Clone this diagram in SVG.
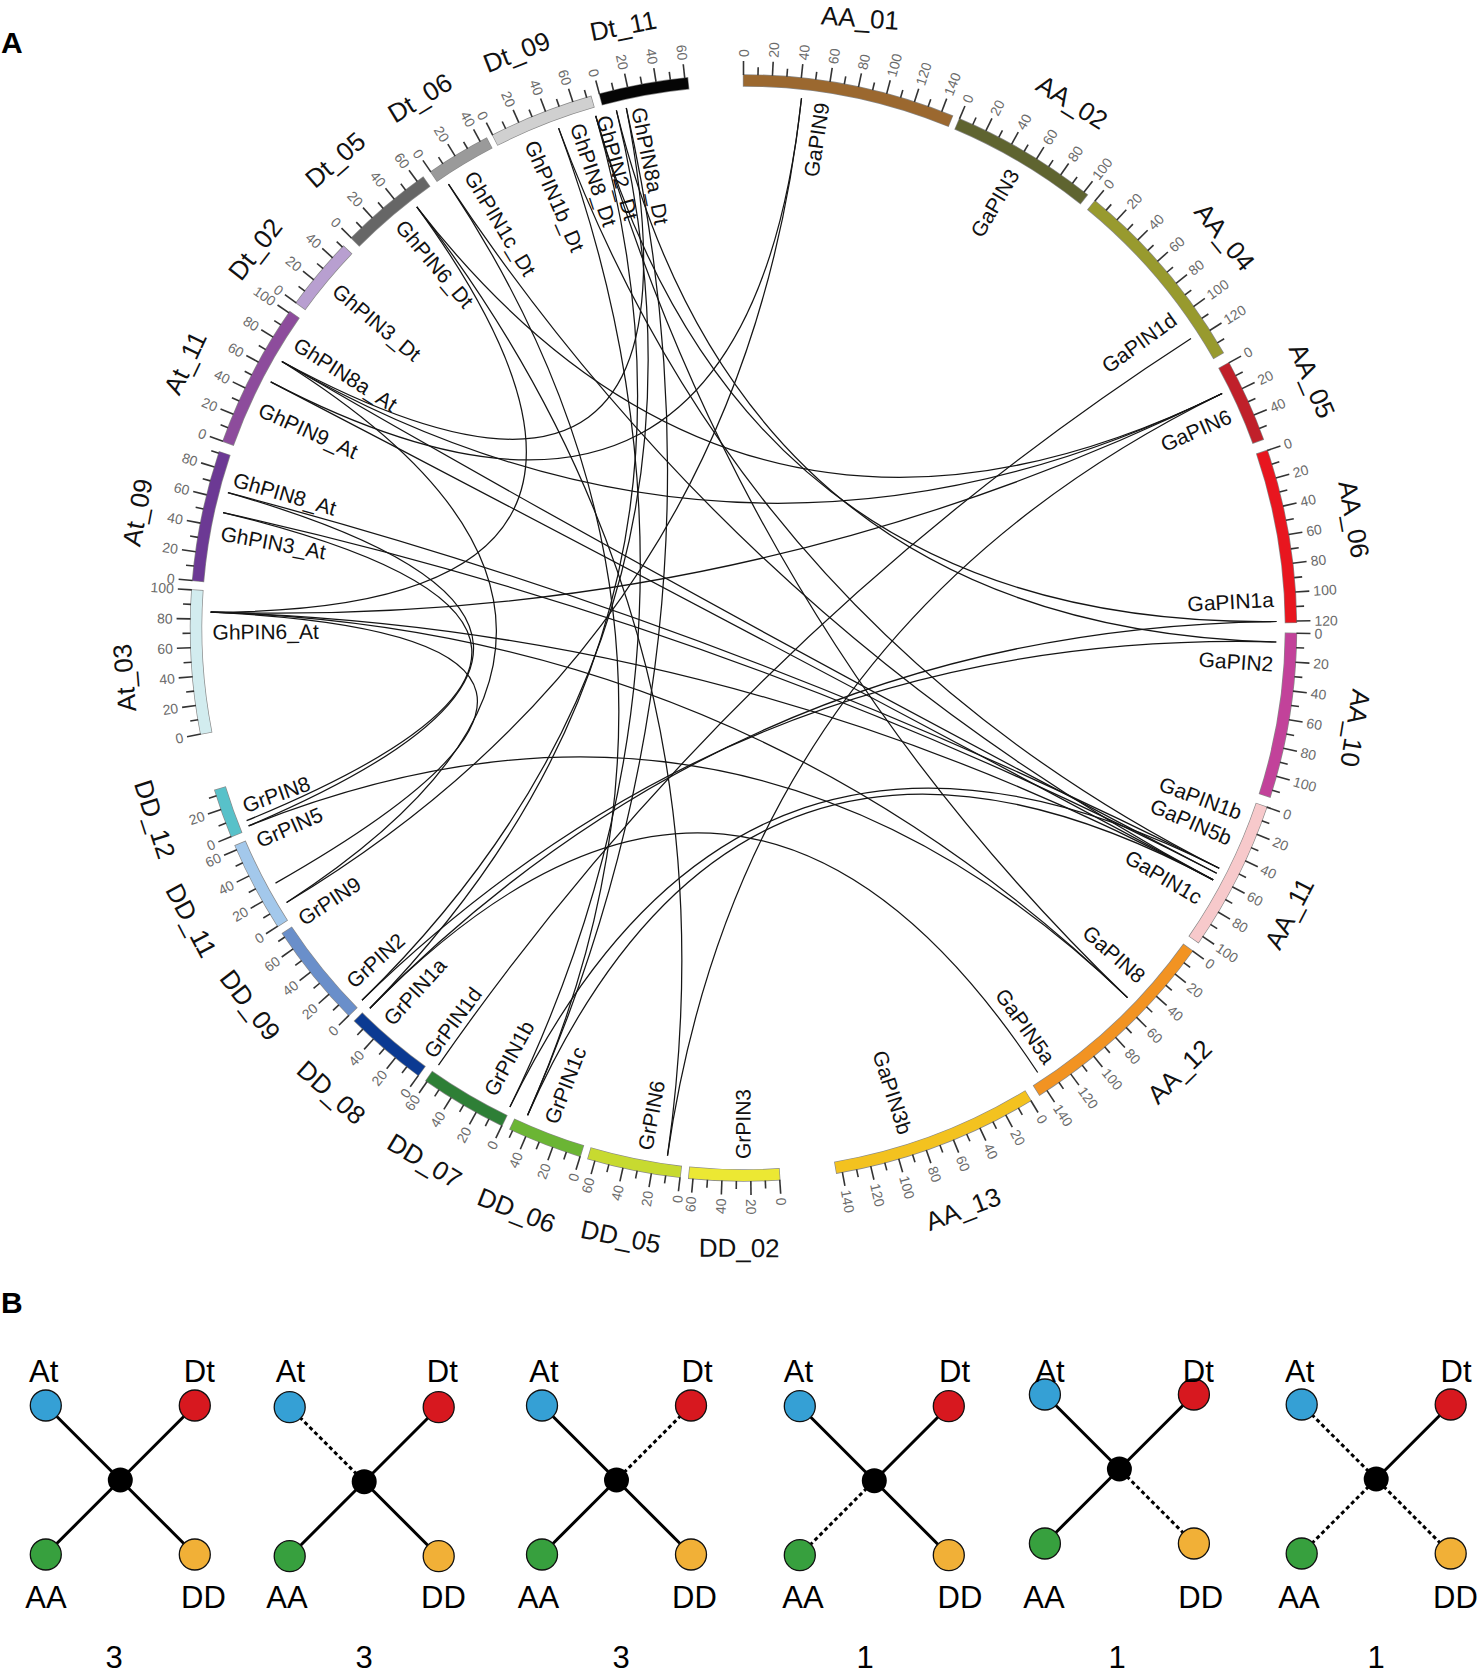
<svg xmlns="http://www.w3.org/2000/svg" width="1479" height="1672" viewBox="0 0 1479 1672">
<style>
text{font-family:"Liberation Sans",Arial,sans-serif}
.bf{fill:none;stroke-width:11}
.bd{fill:none;stroke:#8a8a8a;stroke-width:12.4}
.tk{stroke:#333;stroke-width:1.6}
.tl{font-size:14px;fill:#6b6b6b;dominant-baseline:central}
.to{text-anchor:start}
.ti{text-anchor:end}
.cn{font-size:26px;fill:#111;text-anchor:middle;dominant-baseline:central}
.gl{font-size:21px;fill:#111;dominant-baseline:central}
.gr{text-anchor:end}
.gi{text-anchor:start}
.lk path{fill:none;stroke:#151515;stroke-width:1.25}
.pl{font-size:30px;fill:#000;font-weight:bold}
.bt{font-size:31px;fill:#000;text-anchor:middle}
.e{stroke:#000;stroke-width:3}
.d{stroke:#000;stroke-width:3;stroke-dasharray:4 3}
.n{stroke:#111;stroke-width:1.3}
</style>
<defs>
<line id="M" class="tk" x1="0" y1="-553" x2="0" y2="-567"/>
<line id="m" class="tk" x1="0" y1="-553" x2="0" y2="-561"/>
</defs>
<rect width="1479" height="1672" fill="#fff"/>
<text class="pl" x="1" y="53">A</text>
<text class="pl" x="1" y="1313">B</text>
<g transform="translate(743.5 628)">
<g id="links" class="lk">
<path d="M-532.8 -15.8Q0 0 478.6 -234.5"/>
<path d="M-532.8 -15.8Q0 0 469.7 251.9"/>
<path d="M-532.8 -15.8Q-31.2 -15.9 -326.7 -421.2"/>
<path d="M-532.8 -15.8Q-34 8.1 -468 255.1"/>
<path d="M-532.8 -15.8Q0 0 384 369.6"/>
<path d="M-520.4 -115.4Q0 0 473.2 245.3"/>
<path d="M-520.4 -115.4Q-34.9 2.7 -496.9 192.7"/>
<path d="M-515.6 -135.3Q0 0 475.7 240.3"/>
<path d="M-515.6 -135.3Q-34.9 2.2 -494.9 197.9"/>
<path d="M-472.8 -246.1Q0 0 58 -529.8"/>
<path d="M-472.8 -246.1Q0 0 469.7 251.9"/>
<path d="M-461.6 -266.5Q0 0 473.2 245.3"/>
<path d="M-461.6 -266.5Q0 0 478.6 -234.5"/>
<path d="M-461.6 -266.5Q-35 0.3 -456.9 274.5"/>
<path d="M-461.6 -266.5Q-20.7 -28.2 -117.2 -520"/>
<path d="M-326.7 -421.2Q0 0 -76 527.6"/>
<path d="M-326.7 -421.2Q0 0 478.6 -234.5"/>
<path d="M-295 -443.9Q0 0 -215.9 487.3"/>
<path d="M-295 -443.9Q0 0 469.7 251.9"/>
<path d="M-184.9 -499.9Q0 0 -233.6 479.1"/>
<path d="M-184.9 -499.9Q0 0 475.7 240.3"/>
<path d="M-147.8 -512.1Q0 0 384 369.6"/>
<path d="M-147.8 -512.1Q0 0 533 -6.5"/>
<path d="M-147.8 -512.1Q0 0 -373.6 380.2"/>
<path d="M-127.1 -517.6Q0 0 532.8 14"/>
<path d="M-127.1 -517.6Q0 0 -381.5 372.3"/>
<path d="M-117.2 -520Q0 0 -215.9 487.3"/>
<path d="M58 -529.8Q0 0 -456.9 274.5"/>
<path d="M447.5 -289.5Q0 0 -305 437.1"/>
<path d="M533 -6.5Q0 0 -373.6 380.2"/>
<path d="M532.8 14Q0 0 -381.5 372.3"/>
<path d="M475.7 240.3Q0 0 -233.6 479.1"/>
<path d="M469.7 251.9Q0 0 -215.9 487.3"/>
<path d="M478.6 -234.5Q0 0 -76 527.6"/>
<path d="M294.2 444.5Q0 0 -373.6 380.2"/>
<path d="M384 369.6Q0 0 -494.9 197.9"/>
</g>

<g id="AA_01" transform="rotate(0)">
<circle class="bd" r="547.5" stroke-dasharray="213.48 3500" transform="rotate(-90.07)"/>
<circle class="bf" r="547.5" stroke="#9b682f" stroke-dasharray="212.14 3500" transform="rotate(-90)"/>
<use href="#M"/><use href="#M" transform="rotate(3)"/><use href="#M" transform="rotate(6)"/><use href="#M" transform="rotate(9)"/><use href="#M" transform="rotate(12)"/><use href="#M" transform="rotate(15)"/><use href="#M" transform="rotate(18)"/><use href="#M" transform="rotate(21)"/>
<use href="#m" transform="rotate(1.5)"/><use href="#m" transform="rotate(4.5)"/><use href="#m" transform="rotate(7.5)"/><use href="#m" transform="rotate(10.5)"/><use href="#m" transform="rotate(13.5)"/><use href="#m" transform="rotate(16.5)"/><use href="#m" transform="rotate(19.5)"/>
<text class="tl to" transform="rotate(0) translate(0 -571) rotate(-90)">0</text>
<text class="tl to" transform="rotate(3) translate(0 -571) rotate(-90)">20</text>
<text class="tl to" transform="rotate(6) translate(0 -571) rotate(-90)">40</text>
<text class="tl to" transform="rotate(9) translate(0 -571) rotate(-90)">60</text>
<text class="tl to" transform="rotate(12) translate(0 -571) rotate(-90)">80</text>
<text class="tl to" transform="rotate(15) translate(0 -571) rotate(-90)">100</text>
<text class="tl to" transform="rotate(18) translate(0 -571) rotate(-90)">120</text>
<text class="tl to" transform="rotate(21) translate(0 -571) rotate(-90)">140</text>
<text class="cn" transform="translate(116.5 -610) rotate(4)">AA_01</text>
</g>

<g id="AA_02" transform="rotate(22.99)">
<circle class="bd" r="547.5" stroke-dasharray="148.98 3500" transform="rotate(-90.07)"/>
<circle class="bf" r="547.5" stroke="#5f6430" stroke-dasharray="147.64 3500" transform="rotate(-90)"/>
<use href="#M"/><use href="#M" transform="rotate(3)"/><use href="#M" transform="rotate(6)"/><use href="#M" transform="rotate(9)"/><use href="#M" transform="rotate(12)"/><use href="#M" transform="rotate(15)"/>
<use href="#m" transform="rotate(1.5)"/><use href="#m" transform="rotate(4.5)"/><use href="#m" transform="rotate(7.5)"/><use href="#m" transform="rotate(10.5)"/><use href="#m" transform="rotate(13.5)"/>
<text class="tl to" transform="rotate(0) translate(0 -571) rotate(-90)">0</text>
<text class="tl to" transform="rotate(3) translate(0 -571) rotate(-90)">20</text>
<text class="tl to" transform="rotate(6) translate(0 -571) rotate(-90)">40</text>
<text class="tl to" transform="rotate(9) translate(0 -571) rotate(-90)">60</text>
<text class="tl to" transform="rotate(12) translate(0 -571) rotate(-90)">80</text>
<text class="tl to" transform="rotate(15) translate(0 -571) rotate(-90)">100</text>
<text class="cn" transform="rotate(9.01) translate(0 -620)">AA_02</text>
</g>

<g id="AA_04" transform="rotate(39.46)">
<circle class="bd" r="547.5" stroke-dasharray="199.14 3500" transform="rotate(-90.07)"/>
<circle class="bf" r="547.5" stroke="#989a2e" stroke-dasharray="197.8 3500" transform="rotate(-90)"/>
<use href="#M"/><use href="#M" transform="rotate(3)"/><use href="#M" transform="rotate(6)"/><use href="#M" transform="rotate(9)"/><use href="#M" transform="rotate(12)"/><use href="#M" transform="rotate(15)"/><use href="#M" transform="rotate(18)"/>
<use href="#m" transform="rotate(1.5)"/><use href="#m" transform="rotate(4.5)"/><use href="#m" transform="rotate(7.5)"/><use href="#m" transform="rotate(10.5)"/><use href="#m" transform="rotate(13.5)"/><use href="#m" transform="rotate(16.5)"/><use href="#m" transform="rotate(19.5)"/>
<text class="tl to" transform="rotate(0) translate(0 -571) rotate(-90)">0</text>
<text class="tl to" transform="rotate(3) translate(0 -571) rotate(-90)">20</text>
<text class="tl to" transform="rotate(6) translate(0 -571) rotate(-90)">40</text>
<text class="tl to" transform="rotate(9) translate(0 -571) rotate(-90)">60</text>
<text class="tl to" transform="rotate(12) translate(0 -571) rotate(-90)">80</text>
<text class="tl to" transform="rotate(15) translate(0 -571) rotate(-90)">100</text>
<text class="tl to" transform="rotate(18) translate(0 -571) rotate(-90)">120</text>
<text class="cn" transform="rotate(11.44) translate(0 -620)">AA_04</text>
</g>

<g id="AA_05" transform="rotate(61.35)">
<circle class="bd" r="547.5" stroke-dasharray="84.47 3500" transform="rotate(-90.07)"/>
<circle class="bf" r="547.5" stroke="#c0202a" stroke-dasharray="83.13 3500" transform="rotate(-90)"/>
<use href="#M"/><use href="#M" transform="rotate(3)"/><use href="#M" transform="rotate(6)"/>
<use href="#m" transform="rotate(1.5)"/><use href="#m" transform="rotate(4.5)"/><use href="#m" transform="rotate(7.5)"/>
<text class="tl to" transform="rotate(0) translate(0 -571) rotate(-90)">0</text>
<text class="tl to" transform="rotate(3) translate(0 -571) rotate(-90)">20</text>
<text class="tl to" transform="rotate(6) translate(0 -571) rotate(-90)">40</text>
<text class="cn" transform="rotate(5.15) translate(0 -620)">AA_05</text>
</g>

<g id="AA_06" transform="rotate(71.27)">
<circle class="bd" r="547.5" stroke-dasharray="174.78 3500" transform="rotate(-90.07)"/>
<circle class="bf" r="547.5" stroke="#e8161f" stroke-dasharray="173.44 3500" transform="rotate(-90)"/>
<use href="#M"/><use href="#M" transform="rotate(3)"/><use href="#M" transform="rotate(6)"/><use href="#M" transform="rotate(9)"/><use href="#M" transform="rotate(12)"/><use href="#M" transform="rotate(15)"/><use href="#M" transform="rotate(18)"/>
<use href="#m" transform="rotate(1.5)"/><use href="#m" transform="rotate(4.5)"/><use href="#m" transform="rotate(7.5)"/><use href="#m" transform="rotate(10.5)"/><use href="#m" transform="rotate(13.5)"/><use href="#m" transform="rotate(16.5)"/>
<text class="tl to" transform="rotate(0) translate(0 -571) rotate(-90)">0</text>
<text class="tl to" transform="rotate(3) translate(0 -571) rotate(-90)">20</text>
<text class="tl to" transform="rotate(6) translate(0 -571) rotate(-90)">40</text>
<text class="tl to" transform="rotate(9) translate(0 -571) rotate(-90)">60</text>
<text class="tl to" transform="rotate(12) translate(0 -571) rotate(-90)">80</text>
<text class="tl to" transform="rotate(15) translate(0 -571) rotate(-90)">100</text>
<text class="tl to" transform="rotate(18) translate(0 -571) rotate(-90)">120</text>
<text class="cn" transform="rotate(8.63) translate(0 -620)">AA_06</text>
</g>

<g id="AA_10" transform="rotate(90.55)">
<circle class="bd" r="547.5" stroke-dasharray="166.18 3500" transform="rotate(-90.07)"/>
<circle class="bf" r="547.5" stroke="#c2429a" stroke-dasharray="164.84 3500" transform="rotate(-90)"/>
<use href="#M"/><use href="#M" transform="rotate(3)"/><use href="#M" transform="rotate(6)"/><use href="#M" transform="rotate(9)"/><use href="#M" transform="rotate(12)"/><use href="#M" transform="rotate(15)"/>
<use href="#m" transform="rotate(1.5)"/><use href="#m" transform="rotate(4.5)"/><use href="#m" transform="rotate(7.5)"/><use href="#m" transform="rotate(10.5)"/><use href="#m" transform="rotate(13.5)"/><use href="#m" transform="rotate(16.5)"/>
<text class="tl to" transform="rotate(0) translate(0 -571) rotate(-90)">0</text>
<text class="tl to" transform="rotate(3) translate(0 -571) rotate(-90)">20</text>
<text class="tl to" transform="rotate(6) translate(0 -571) rotate(-90)">40</text>
<text class="tl to" transform="rotate(9) translate(0 -571) rotate(-90)">60</text>
<text class="tl to" transform="rotate(12) translate(0 -571) rotate(-90)">80</text>
<text class="tl to" transform="rotate(15) translate(0 -571) rotate(-90)">100</text>
<text class="cn" transform="rotate(8.75) translate(0 -620)">AA_10</text>
</g>

<g id="AA_11" transform="rotate(108.9)">
<circle class="bd" r="547.5" stroke-dasharray="151.84 3500" transform="rotate(-90.07)"/>
<circle class="bf" r="547.5" stroke="#f7c9cb" stroke-dasharray="150.5 3500" transform="rotate(-90)"/>
<use href="#M"/><use href="#M" transform="rotate(3)"/><use href="#M" transform="rotate(6)"/><use href="#M" transform="rotate(9)"/><use href="#M" transform="rotate(12)"/><use href="#M" transform="rotate(15)"/>
<use href="#m" transform="rotate(1.5)"/><use href="#m" transform="rotate(4.5)"/><use href="#m" transform="rotate(7.5)"/><use href="#m" transform="rotate(10.5)"/><use href="#m" transform="rotate(13.5)"/>
<text class="tl to" transform="rotate(0) translate(0 -571) rotate(-90)">0</text>
<text class="tl to" transform="rotate(3) translate(0 -571) rotate(-90)">20</text>
<text class="tl to" transform="rotate(6) translate(0 -571) rotate(-90)">40</text>
<text class="tl to" transform="rotate(9) translate(0 -571) rotate(-90)">60</text>
<text class="tl to" transform="rotate(12) translate(0 -571) rotate(-90)">80</text>
<text class="tl to" transform="rotate(15) translate(0 -571) rotate(-90)">100</text>
<text class="cn" transform="rotate(8.7) translate(0 -616) rotate(180)">AA_11</text>
</g>

<g id="AA_12" transform="rotate(125.73)">
<circle class="bd" r="547.5" stroke-dasharray="210.61 3500" transform="rotate(-90.07)"/>
<circle class="bf" r="547.5" stroke="#f29322" stroke-dasharray="209.27 3500" transform="rotate(-90)"/>
<use href="#M"/><use href="#M" transform="rotate(3)"/><use href="#M" transform="rotate(6)"/><use href="#M" transform="rotate(9)"/><use href="#M" transform="rotate(12)"/><use href="#M" transform="rotate(15)"/><use href="#M" transform="rotate(18)"/><use href="#M" transform="rotate(21)"/>
<use href="#m" transform="rotate(1.5)"/><use href="#m" transform="rotate(4.5)"/><use href="#m" transform="rotate(7.5)"/><use href="#m" transform="rotate(10.5)"/><use href="#m" transform="rotate(13.5)"/><use href="#m" transform="rotate(16.5)"/><use href="#m" transform="rotate(19.5)"/>
<text class="tl to" transform="rotate(0) translate(0 -571) rotate(-90)">0</text>
<text class="tl to" transform="rotate(3) translate(0 -571) rotate(-90)">20</text>
<text class="tl to" transform="rotate(6) translate(0 -571) rotate(-90)">40</text>
<text class="tl to" transform="rotate(9) translate(0 -571) rotate(-90)">60</text>
<text class="tl to" transform="rotate(12) translate(0 -571) rotate(-90)">80</text>
<text class="tl to" transform="rotate(15) translate(0 -571) rotate(-90)">100</text>
<text class="tl to" transform="rotate(18) translate(0 -571) rotate(-90)">120</text>
<text class="tl to" transform="rotate(21) translate(0 -571) rotate(-90)">140</text>
<text class="cn" transform="rotate(9.77) translate(0 -622) rotate(180)">AA_12</text>
</g>

<g id="AA_13" transform="rotate(148.7)">
<circle class="bd" r="547.5" stroke-dasharray="207.74 3500" transform="rotate(-90.07)"/>
<circle class="bf" r="547.5" stroke="#f3c21f" stroke-dasharray="206.4 3500" transform="rotate(-90)"/>
<use href="#M"/><use href="#M" transform="rotate(3)"/><use href="#M" transform="rotate(6)"/><use href="#M" transform="rotate(9)"/><use href="#M" transform="rotate(12)"/><use href="#M" transform="rotate(15)"/><use href="#M" transform="rotate(18)"/><use href="#M" transform="rotate(21)"/>
<use href="#m" transform="rotate(1.5)"/><use href="#m" transform="rotate(4.5)"/><use href="#m" transform="rotate(7.5)"/><use href="#m" transform="rotate(10.5)"/><use href="#m" transform="rotate(13.5)"/><use href="#m" transform="rotate(16.5)"/><use href="#m" transform="rotate(19.5)"/>
<text class="tl to" transform="rotate(0) translate(0 -571) rotate(-90)">0</text>
<text class="tl to" transform="rotate(3) translate(0 -571) rotate(-90)">20</text>
<text class="tl to" transform="rotate(6) translate(0 -571) rotate(-90)">40</text>
<text class="tl to" transform="rotate(9) translate(0 -571) rotate(-90)">60</text>
<text class="tl to" transform="rotate(12) translate(0 -571) rotate(-90)">80</text>
<text class="tl to" transform="rotate(15) translate(0 -571) rotate(-90)">100</text>
<text class="tl to" transform="rotate(18) translate(0 -571) rotate(-90)">120</text>
<text class="tl to" transform="rotate(21) translate(0 -571) rotate(-90)">140</text>
<text class="cn" transform="rotate(10.6) translate(0 -621) rotate(180)">AA_13</text>
</g>

<g id="DD_02" transform="rotate(176.24)">
<circle class="bd" r="547.5" stroke-dasharray="91.64 3500" transform="rotate(-90.07)"/>
<circle class="bf" r="547.5" stroke="#ece833" stroke-dasharray="90.3 3500" transform="rotate(-90)"/>
<use href="#M"/><use href="#M" transform="rotate(3)"/><use href="#M" transform="rotate(6)"/><use href="#M" transform="rotate(9)"/>
<use href="#m" transform="rotate(1.5)"/><use href="#m" transform="rotate(4.5)"/><use href="#m" transform="rotate(7.5)"/>
<text class="tl to" transform="rotate(0) translate(0 -571) rotate(-90)">0</text>
<text class="tl to" transform="rotate(3) translate(0 -571) rotate(-90)">20</text>
<text class="tl ti" transform="rotate(6) translate(0 -571) rotate(90)">40</text>
<text class="tl ti" transform="rotate(9) translate(0 -571) rotate(90)">60</text>
<text class="cn" transform="rotate(4.16) translate(0 -620) rotate(180)">DD_02</text>
</g>

<g id="DD_05" transform="rotate(186.59)">
<circle class="bd" r="547.5" stroke-dasharray="94.51 3500" transform="rotate(-90.07)"/>
<circle class="bf" r="547.5" stroke="#c7da30" stroke-dasharray="93.17 3500" transform="rotate(-90)"/>
<use href="#M"/><use href="#M" transform="rotate(3)"/><use href="#M" transform="rotate(6)"/><use href="#M" transform="rotate(9)"/>
<use href="#m" transform="rotate(1.5)"/><use href="#m" transform="rotate(4.5)"/><use href="#m" transform="rotate(7.5)"/>
<text class="tl ti" transform="rotate(0) translate(0 -571) rotate(90)">0</text>
<text class="tl ti" transform="rotate(3) translate(0 -571) rotate(90)">20</text>
<text class="tl ti" transform="rotate(6) translate(0 -571) rotate(90)">40</text>
<text class="tl ti" transform="rotate(9) translate(0 -571) rotate(90)">60</text>
<text class="cn" transform="rotate(4.81) translate(0 -621) rotate(180)">DD_05</text>
</g>

<g id="DD_06" transform="rotate(197.18)">
<circle class="bd" r="547.5" stroke-dasharray="75.87 3500" transform="rotate(-90.07)"/>
<circle class="bf" r="547.5" stroke="#6bb534" stroke-dasharray="74.53 3500" transform="rotate(-90)"/>
<use href="#M"/><use href="#M" transform="rotate(3)"/><use href="#M" transform="rotate(6)"/>
<use href="#m" transform="rotate(1.5)"/><use href="#m" transform="rotate(4.5)"/><use href="#m" transform="rotate(7.5)"/>
<text class="tl ti" transform="rotate(0) translate(0 -571) rotate(90)">0</text>
<text class="tl ti" transform="rotate(3) translate(0 -571) rotate(90)">20</text>
<text class="tl ti" transform="rotate(6) translate(0 -571) rotate(90)">40</text>
<text class="cn" transform="rotate(4.12) translate(0 -625) rotate(180)">DD_06</text>
</g>

<g id="DD_07" transform="rotate(205.9)">
<circle class="bd" r="547.5" stroke-dasharray="88.77 3500" transform="rotate(-90.07)"/>
<circle class="bf" r="547.5" stroke="#2e7f36" stroke-dasharray="87.43 3500" transform="rotate(-90)"/>
<use href="#M"/><use href="#M" transform="rotate(3)"/><use href="#M" transform="rotate(6)"/><use href="#M" transform="rotate(9)"/>
<use href="#m" transform="rotate(1.5)"/><use href="#m" transform="rotate(4.5)"/><use href="#m" transform="rotate(7.5)"/>
<text class="tl ti" transform="rotate(0) translate(0 -571) rotate(90)">0</text>
<text class="tl ti" transform="rotate(3) translate(0 -571) rotate(90)">20</text>
<text class="tl ti" transform="rotate(6) translate(0 -571) rotate(90)">40</text>
<text class="tl ti" transform="rotate(9) translate(0 -571) rotate(90)">60</text>
<text class="cn" transform="rotate(5) translate(0 -621) rotate(180)">DD_07</text>
</g>

<g id="DD_08" transform="rotate(216)">
<circle class="bd" r="547.5" stroke-dasharray="84.47 3500" transform="rotate(-90.07)"/>
<circle class="bf" r="547.5" stroke="#0b3a92" stroke-dasharray="83.13 3500" transform="rotate(-90)"/>
<use href="#M"/><use href="#M" transform="rotate(3)"/><use href="#M" transform="rotate(6)"/>
<use href="#m" transform="rotate(1.5)"/><use href="#m" transform="rotate(4.5)"/><use href="#m" transform="rotate(7.5)"/>
<text class="tl ti" transform="rotate(0) translate(0 -571) rotate(90)">0</text>
<text class="tl ti" transform="rotate(3) translate(0 -571) rotate(90)">20</text>
<text class="tl ti" transform="rotate(6) translate(0 -571) rotate(90)">40</text>
<text class="cn" transform="rotate(5.6) translate(0 -621) rotate(180)">DD_08</text>
</g>

<g id="DD_09" transform="rotate(225.53)">
<circle class="bd" r="547.5" stroke-dasharray="105.98 3500" transform="rotate(-90.07)"/>
<circle class="bf" r="547.5" stroke="#6a8fca" stroke-dasharray="104.64 3500" transform="rotate(-90)"/>
<use href="#M"/><use href="#M" transform="rotate(3)"/><use href="#M" transform="rotate(6)"/><use href="#M" transform="rotate(9)"/>
<use href="#m" transform="rotate(1.5)"/><use href="#m" transform="rotate(4.5)"/><use href="#m" transform="rotate(7.5)"/><use href="#m" transform="rotate(10.5)"/>
<text class="tl ti" transform="rotate(0) translate(0 -571) rotate(90)">0</text>
<text class="tl ti" transform="rotate(3) translate(0 -571) rotate(90)">20</text>
<text class="tl ti" transform="rotate(6) translate(0 -571) rotate(90)">40</text>
<text class="tl ti" transform="rotate(9) translate(0 -571) rotate(90)">60</text>
<text class="cn" transform="rotate(7.07) translate(0 -621) rotate(180)">DD_09</text>
</g>

<g id="DD_11" transform="rotate(237.37)">
<circle class="bd" r="547.5" stroke-dasharray="91.64 3500" transform="rotate(-90.07)"/>
<circle class="bf" r="547.5" stroke="#a3c8eb" stroke-dasharray="90.3 3500" transform="rotate(-90)"/>
<use href="#M"/><use href="#M" transform="rotate(3)"/><use href="#M" transform="rotate(6)"/><use href="#M" transform="rotate(9)"/>
<use href="#m" transform="rotate(1.5)"/><use href="#m" transform="rotate(4.5)"/><use href="#m" transform="rotate(7.5)"/>
<text class="tl ti" transform="rotate(0) translate(0 -571) rotate(90)">0</text>
<text class="tl ti" transform="rotate(3) translate(0 -571) rotate(90)">20</text>
<text class="tl ti" transform="rotate(6) translate(0 -571) rotate(90)">40</text>
<text class="tl ti" transform="rotate(9) translate(0 -571) rotate(90)">60</text>
<text class="cn" transform="rotate(4.73) translate(0 -625) rotate(180)">DD_11</text>
</g>

<g id="DD_12" transform="rotate(247.84)">
<circle class="bd" r="547.5" stroke-dasharray="50.07 3500" transform="rotate(-90.07)"/>
<circle class="bf" r="547.5" stroke="#58c1c9" stroke-dasharray="48.73 3500" transform="rotate(-90)"/>
<use href="#M"/><use href="#M" transform="rotate(3)"/>
<use href="#m" transform="rotate(1.5)"/><use href="#m" transform="rotate(4.5)"/>
<text class="tl ti" transform="rotate(0) translate(0 -571) rotate(90)">0</text>
<text class="tl ti" transform="rotate(3) translate(0 -571) rotate(90)">20</text>
<text class="cn" transform="rotate(4.16) translate(0 -619) rotate(180)">DD_12</text>
</g>

<g id="At_03" transform="rotate(258.95)">
<circle class="bd" r="547.5" stroke-dasharray="144.68 3500" transform="rotate(-90.07)"/>
<circle class="bf" r="547.5" stroke="#d2ecef" stroke-dasharray="143.34 3500" transform="rotate(-90)"/>
<use href="#M"/><use href="#M" transform="rotate(3)"/><use href="#M" transform="rotate(6)"/><use href="#M" transform="rotate(9)"/><use href="#M" transform="rotate(12)"/><use href="#M" transform="rotate(15)"/>
<use href="#m" transform="rotate(1.5)"/><use href="#m" transform="rotate(4.5)"/><use href="#m" transform="rotate(7.5)"/><use href="#m" transform="rotate(10.5)"/><use href="#m" transform="rotate(13.5)"/>
<text class="tl ti" transform="rotate(0) translate(0 -571) rotate(90)">0</text>
<text class="tl ti" transform="rotate(3) translate(0 -571) rotate(90)">20</text>
<text class="tl ti" transform="rotate(6) translate(0 -571) rotate(90)">40</text>
<text class="tl ti" transform="rotate(9) translate(0 -571) rotate(90)">60</text>
<text class="tl ti" transform="rotate(12) translate(0 -571) rotate(90)">80</text>
<text class="tl ti" transform="rotate(15) translate(0 -571) rotate(90)">100</text>
<text class="cn" transform="rotate(6.45) translate(0 -621)">At_03</text>
</g>

<g id="At_09" transform="rotate(274.93)">
<circle class="bd" r="547.5" stroke-dasharray="131.77 3500" transform="rotate(-90.07)"/>
<circle class="bf" r="547.5" stroke="#6c3994" stroke-dasharray="130.43 3500" transform="rotate(-90)"/>
<use href="#M"/><use href="#M" transform="rotate(3)"/><use href="#M" transform="rotate(6)"/><use href="#M" transform="rotate(9)"/><use href="#M" transform="rotate(12)"/>
<use href="#m" transform="rotate(1.5)"/><use href="#m" transform="rotate(4.5)"/><use href="#m" transform="rotate(7.5)"/><use href="#m" transform="rotate(10.5)"/><use href="#m" transform="rotate(13.5)"/>
<text class="tl ti" transform="rotate(0) translate(0 -571) rotate(90)">0</text>
<text class="tl ti" transform="rotate(3) translate(0 -571) rotate(90)">20</text>
<text class="tl ti" transform="rotate(6) translate(0 -571) rotate(90)">40</text>
<text class="tl ti" transform="rotate(9) translate(0 -571) rotate(90)">60</text>
<text class="tl ti" transform="rotate(12) translate(0 -571) rotate(90)">80</text>
<text class="cn" transform="rotate(5.87) translate(0 -617)">At_09</text>
</g>

<g id="At_11" transform="rotate(289.73)">
<circle class="bd" r="547.5" stroke-dasharray="146.11 3500" transform="rotate(-90.07)"/>
<circle class="bf" r="547.5" stroke="#8d4c9c" stroke-dasharray="144.77 3500" transform="rotate(-90)"/>
<use href="#M"/><use href="#M" transform="rotate(3)"/><use href="#M" transform="rotate(6)"/><use href="#M" transform="rotate(9)"/><use href="#M" transform="rotate(12)"/><use href="#M" transform="rotate(15)"/>
<use href="#m" transform="rotate(1.5)"/><use href="#m" transform="rotate(4.5)"/><use href="#m" transform="rotate(7.5)"/><use href="#m" transform="rotate(10.5)"/><use href="#m" transform="rotate(13.5)"/>
<text class="tl ti" transform="rotate(0) translate(0 -571) rotate(90)">0</text>
<text class="tl ti" transform="rotate(3) translate(0 -571) rotate(90)">20</text>
<text class="tl ti" transform="rotate(6) translate(0 -571) rotate(90)">40</text>
<text class="tl ti" transform="rotate(9) translate(0 -571) rotate(90)">60</text>
<text class="tl ti" transform="rotate(12) translate(0 -571) rotate(90)">80</text>
<text class="tl ti" transform="rotate(15) translate(0 -571) rotate(90)">100</text>
<text class="cn" transform="rotate(5.67) translate(0 -618)">At_11</text>
</g>

<g id="Dt_02" transform="rotate(306.02)">
<circle class="bd" r="547.5" stroke-dasharray="74.44 3500" transform="rotate(-90.07)"/>
<circle class="bf" r="547.5" stroke="#b89fd0" stroke-dasharray="73.1 3500" transform="rotate(-90)"/>
<use href="#M"/><use href="#M" transform="rotate(3)"/><use href="#M" transform="rotate(6)"/>
<use href="#m" transform="rotate(1.5)"/><use href="#m" transform="rotate(4.5)"/><use href="#m" transform="rotate(7.5)"/>
<text class="tl ti" transform="rotate(0) translate(0 -571) rotate(90)">0</text>
<text class="tl ti" transform="rotate(3) translate(0 -571) rotate(90)">20</text>
<text class="tl ti" transform="rotate(6) translate(0 -571) rotate(90)">40</text>
<text class="cn" transform="rotate(1.78) translate(0 -618)">Dt_02</text>
</g>

<g id="Dt_05" transform="rotate(314.85)">
<circle class="bd" r="547.5" stroke-dasharray="94.51 3500" transform="rotate(-90.07)"/>
<circle class="bf" r="547.5" stroke="#666666" stroke-dasharray="93.17 3500" transform="rotate(-90)"/>
<use href="#M"/><use href="#M" transform="rotate(3)"/><use href="#M" transform="rotate(6)"/><use href="#M" transform="rotate(9)"/>
<use href="#m" transform="rotate(1.5)"/><use href="#m" transform="rotate(4.5)"/><use href="#m" transform="rotate(7.5)"/>
<text class="tl ti" transform="rotate(0) translate(0 -571) rotate(90)">0</text>
<text class="tl ti" transform="rotate(3) translate(0 -571) rotate(90)">20</text>
<text class="tl ti" transform="rotate(6) translate(0 -571) rotate(90)">40</text>
<text class="tl ti" transform="rotate(9) translate(0 -571) rotate(90)">60</text>
<text class="cn" transform="rotate(4.05) translate(0 -621)">Dt_05</text>
</g>

<g id="Dt_06" transform="rotate(325.57)">
<circle class="bd" r="547.5" stroke-dasharray="65.84 3500" transform="rotate(-90.07)"/>
<circle class="bf" r="547.5" stroke="#9a9a9a" stroke-dasharray="64.5 3500" transform="rotate(-90)"/>
<use href="#M"/><use href="#M" transform="rotate(3)"/><use href="#M" transform="rotate(6)"/>
<use href="#m" transform="rotate(1.5)"/><use href="#m" transform="rotate(4.5)"/>
<text class="tl ti" transform="rotate(0) translate(0 -571) rotate(90)">0</text>
<text class="tl ti" transform="rotate(3) translate(0 -571) rotate(90)">20</text>
<text class="tl ti" transform="rotate(6) translate(0 -571) rotate(90)">40</text>
<text class="cn" transform="rotate(3.03) translate(0 -621)">Dt_06</text>
</g>

<g id="Dt_09" transform="rotate(333.03)">
<circle class="bd" r="547.5" stroke-dasharray="105.98 3500" transform="rotate(-90.07)"/>
<circle class="bf" r="547.5" stroke="#d0d0d0" stroke-dasharray="104.64 3500" transform="rotate(-90)"/>
<use href="#M"/><use href="#M" transform="rotate(3)"/><use href="#M" transform="rotate(6)"/><use href="#M" transform="rotate(9)"/>
<use href="#m" transform="rotate(1.5)"/><use href="#m" transform="rotate(4.5)"/><use href="#m" transform="rotate(7.5)"/><use href="#m" transform="rotate(10.5)"/>
<text class="tl ti" transform="rotate(0) translate(0 -571) rotate(90)">0</text>
<text class="tl ti" transform="rotate(3) translate(0 -571) rotate(90)">20</text>
<text class="tl ti" transform="rotate(6) translate(0 -571) rotate(90)">40</text>
<text class="tl ti" transform="rotate(9) translate(0 -571) rotate(90)">60</text>
<text class="cn" transform="rotate(5.47) translate(0 -619)">Dt_09</text>
</g>

<g id="Dt_11" transform="rotate(344.9)">
<circle class="bd" r="547.5" stroke-dasharray="90.21 3500" transform="rotate(-90.07)"/>
<circle class="bf" r="547.5" stroke="#050505" stroke-dasharray="88.87 3500" transform="rotate(-90)"/>
<use href="#M"/><use href="#M" transform="rotate(3)"/><use href="#M" transform="rotate(6)"/><use href="#M" transform="rotate(9)"/>
<use href="#m" transform="rotate(1.5)"/><use href="#m" transform="rotate(4.5)"/><use href="#m" transform="rotate(7.5)"/>
<text class="tl ti" transform="rotate(0) translate(0 -571) rotate(90)">0</text>
<text class="tl ti" transform="rotate(3) translate(0 -571) rotate(90)">20</text>
<text class="tl ti" transform="rotate(6) translate(0 -571) rotate(90)">40</text>
<text class="tl ti" transform="rotate(9) translate(0 -571) rotate(90)">60</text>
<text class="cn" transform="rotate(3.8) translate(0 -614)">Dt_11</text>
</g>

<g id="gene-labels">
<text id="GaPIN9" class="gl gr" transform="rotate(8.5) translate(0 -531) rotate(-90)">GaPIN9</text>
<text id="GaPIN3" class="gl gr" transform="rotate(30.6) translate(0 -531) rotate(-90)">GaPIN3</text>
<text id="GaPIN1d" class="gl gr" transform="rotate(54.2) translate(0 -531) rotate(-90)">GaPIN1d</text>
<text id="GaPIN6" class="gl gr" transform="rotate(66.4) translate(0 -531) rotate(-90)">GaPIN6</text>
<text id="GaPIN1a" class="gl gr" transform="rotate(86.9) translate(0 -531) rotate(-90)">GaPIN1a</text>
<text id="GaPIN2" class="gl gr" transform="rotate(93.9) translate(0 -531) rotate(-90)">GaPIN2</text>
<text id="GaPIN1b" class="gl gr" transform="rotate(110.4) translate(0 -531) rotate(-90)">GaPIN1b</text>
<text id="GaPIN5b" class="gl gr" transform="rotate(113.4) translate(0 -531) rotate(-90)">GaPIN5b</text>
<text id="GaPIN1c" class="gl gr" transform="rotate(120.65) translate(0 -531) rotate(-90)">GaPIN1c</text>
<text id="GaPIN8" class="gl gr" transform="rotate(131.35) translate(0 -531) rotate(-90)">GaPIN8</text>
<text id="GaPIN5a" class="gl gr" transform="rotate(144.7) translate(0 -531) rotate(-90)">GaPIN5a</text>
<text id="GaPIN3b" class="gl gr" transform="rotate(162.2) translate(0 -531) rotate(-90)">GaPIN3b</text>
<text id="GrPIN3" class="gl gi" transform="rotate(180.06) translate(0 -531) rotate(90)">GrPIN3</text>
<text id="GrPIN6" class="gl gi" transform="rotate(190.7) translate(0 -531) rotate(90)">GrPIN6</text>
<text id="GrPIN1c" class="gl gi" transform="rotate(201.3) translate(0 -531) rotate(90)">GrPIN1c</text>
<text id="GrPIN1b" class="gl gi" transform="rotate(208.6) translate(0 -531) rotate(90)">GrPIN1b</text>
<text id="GrPIN1d" class="gl gi" transform="rotate(216.4) translate(0 -531) rotate(90)">GrPIN1d</text>
<text id="GrPIN1a" class="gl gi" transform="rotate(222.1) translate(0 -531) rotate(90)">GrPIN1a</text>
<text id="GrPIN2" class="gl gi" transform="rotate(227.9) translate(0 -531) rotate(90)">GrPIN2</text>
<text id="GrPIN9" class="gl gi" transform="rotate(236.6) translate(0 -531) rotate(90)">GrPIN9</text>
<text id="GrPIN5" class="gl gi" transform="rotate(246.3) translate(0 -531) rotate(90)">GrPIN5</text>
<text id="GrPIN8" class="gl gi" transform="rotate(250.4) translate(0 -531) rotate(90)">GrPIN8</text>
<text id="GhPIN6_At" class="gl gi" transform="rotate(269.56) translate(0 -531) rotate(90)">GhPIN6_At</text>
<text id="GhPIN3_At" class="gl gi" transform="rotate(280.3) translate(0 -531) rotate(90)">GhPIN3_At</text>
<text id="GhPIN8_At" class="gl gi" transform="rotate(286.3) translate(0 -531) rotate(90)">GhPIN8_At</text>
<text id="GhPIN9_At" class="gl gi" transform="rotate(294.4) translate(0 -531) rotate(90)">GhPIN9_At</text>
<text id="GhPIN8a_At" class="gl gi" transform="rotate(302.5) translate(0 -531) rotate(90)">GhPIN8a_At</text>
<text id="GhPIN3_Dt" class="gl gi" transform="rotate(309.8) translate(0 -531) rotate(90)">GhPIN3_Dt</text>
<text id="GhPIN6_Dt" class="gl gi" transform="rotate(319.7) translate(0 -531) rotate(90)">GhPIN6_Dt</text>
<text id="GhPIN1c_Dt" class="gl gi" transform="rotate(329) translate(0 -531) rotate(90)">GhPIN1c_Dt</text>
<text id="GhPIN1b_Dt" class="gl gi" transform="rotate(336.4) translate(0 -531) rotate(90)">GhPIN1b_Dt</text>
<text id="GhPIN8_Dt" class="gl gi" transform="rotate(341.7) translate(0 -531) rotate(90)">GhPIN8_Dt</text>
<text id="GhPIN2_Dt" class="gl gi" transform="rotate(344.7) translate(0 -531) rotate(90)">GhPIN2_Dt</text>
<text id="GhPIN8a_Dt" class="gl gi" transform="rotate(348.6) translate(0 -531) rotate(90)">GhPIN8a_Dt</text>
</g>
</g>

<g id="B1">
<g transform="translate(120.3 1480)">
<line class="e" x1="-74.5" y1="-74.5" x2="0" y2="0"/><line class="e" x1="74.5" y1="-74.5" x2="0" y2="0"/><line class="e" x1="-74.5" y1="74.5" x2="0" y2="0"/><line class="e" x1="74.5" y1="74.5" x2="0" y2="0"/>
<circle class="n" cx="-74.5" cy="-74.5" r="15.5" fill="#35a0d5"/><circle class="n" cx="74.5" cy="-74.5" r="15.5" fill="#d7181f"/><circle class="n" cx="-74.5" cy="74.5" r="15.5" fill="#37a03e"/><circle class="n" cx="74.5" cy="74.5" r="15.5" fill="#f1b037"/><circle r="12.5" fill="#000"/>
</g>
<text class="bt" x="43.7" y="1381.7">At</text><text class="bt" x="199.3" y="1381.7">Dt</text><text class="bt" x="46" y="1608.3">AA</text><text class="bt" x="203.5" y="1608.3">DD</text><text class="bt" x="114" y="1668">3</text>
</g>
<g id="B2">
<g transform="translate(364.2 1481.7)">
<line class="d" x1="-74.5" y1="-74.5" x2="0" y2="0"/><line class="e" x1="74.5" y1="-74.5" x2="0" y2="0"/><line class="e" x1="-74.5" y1="74.5" x2="0" y2="0"/><line class="e" x1="74.5" y1="74.5" x2="0" y2="0"/>
<circle class="n" cx="-74.5" cy="-74.5" r="15.5" fill="#35a0d5"/><circle class="n" cx="74.5" cy="-74.5" r="15.5" fill="#d7181f"/><circle class="n" cx="-74.5" cy="74.5" r="15.5" fill="#37a03e"/><circle class="n" cx="74.5" cy="74.5" r="15.5" fill="#f1b037"/><circle r="12.5" fill="#000"/>
</g>
<text class="bt" x="290.4" y="1381.7">At</text><text class="bt" x="442.3" y="1381.7">Dt</text><text class="bt" x="287" y="1608.3">AA</text><text class="bt" x="443.4" y="1608.3">DD</text><text class="bt" x="364" y="1668">3</text>
</g>
<g id="B3">
<g transform="translate(616.5 1480)">
<line class="e" x1="-74.5" y1="-74.5" x2="0" y2="0"/><line class="d" x1="74.5" y1="-74.5" x2="0" y2="0"/><line class="e" x1="-74.5" y1="74.5" x2="0" y2="0"/><line class="e" x1="74.5" y1="74.5" x2="0" y2="0"/>
<circle class="n" cx="-74.5" cy="-74.5" r="15.5" fill="#35a0d5"/><circle class="n" cx="74.5" cy="-74.5" r="15.5" fill="#d7181f"/><circle class="n" cx="-74.5" cy="74.5" r="15.5" fill="#37a03e"/><circle class="n" cx="74.5" cy="74.5" r="15.5" fill="#f1b037"/><circle r="12.5" fill="#000"/>
</g>
<text class="bt" x="544" y="1381.7">At</text><text class="bt" x="697" y="1381.7">Dt</text><text class="bt" x="538.5" y="1608.3">AA</text><text class="bt" x="694.5" y="1608.3">DD</text><text class="bt" x="621" y="1668">3</text>
</g>
<g id="B4">
<g transform="translate(874.3 1480.7)">
<line class="e" x1="-74.5" y1="-74.5" x2="0" y2="0"/><line class="e" x1="74.5" y1="-74.5" x2="0" y2="0"/><line class="d" x1="-74.5" y1="74.5" x2="0" y2="0"/><line class="e" x1="74.5" y1="74.5" x2="0" y2="0"/>
<circle class="n" cx="-74.5" cy="-74.5" r="15.5" fill="#35a0d5"/><circle class="n" cx="74.5" cy="-74.5" r="15.5" fill="#d7181f"/><circle class="n" cx="-74.5" cy="74.5" r="15.5" fill="#37a03e"/><circle class="n" cx="74.5" cy="74.5" r="15.5" fill="#f1b037"/><circle r="12.5" fill="#000"/>
</g>
<text class="bt" x="798.5" y="1381.7">At</text><text class="bt" x="954.5" y="1381.7">Dt</text><text class="bt" x="803" y="1608.3">AA</text><text class="bt" x="960" y="1608.3">DD</text><text class="bt" x="865" y="1668">1</text>
</g>
<g id="B5">
<g transform="translate(1119.4 1469)">
<line class="e" x1="-74.5" y1="-74.5" x2="0" y2="0"/><line class="e" x1="74.5" y1="-74.5" x2="0" y2="0"/><line class="e" x1="-74.5" y1="74.5" x2="0" y2="0"/><line class="d" x1="74.5" y1="74.5" x2="0" y2="0"/>
<circle class="n" cx="-74.5" cy="-74.5" r="15.5" fill="#35a0d5"/><circle class="n" cx="74.5" cy="-74.5" r="15.5" fill="#d7181f"/><circle class="n" cx="-74.5" cy="74.5" r="15.5" fill="#37a03e"/><circle class="n" cx="74.5" cy="74.5" r="15.5" fill="#f1b037"/><circle r="12.5" fill="#000"/>
</g>
<text class="bt" x="1049.9" y="1381.7">At</text><text class="bt" x="1198.3" y="1381.7">Dt</text><text class="bt" x="1044" y="1608.3">AA</text><text class="bt" x="1200.7" y="1608.3">DD</text><text class="bt" x="1117" y="1668">1</text>
</g>
<g id="B6">
<g transform="translate(1376.2 1479)">
<line class="d" x1="-74.5" y1="-74.5" x2="0" y2="0"/><line class="e" x1="74.5" y1="-74.5" x2="0" y2="0"/><line class="d" x1="-74.5" y1="74.5" x2="0" y2="0"/><line class="d" x1="74.5" y1="74.5" x2="0" y2="0"/>
<circle class="n" cx="-74.5" cy="-74.5" r="15.5" fill="#35a0d5"/><circle class="n" cx="74.5" cy="-74.5" r="15.5" fill="#d7181f"/><circle class="n" cx="-74.5" cy="74.5" r="15.5" fill="#37a03e"/><circle class="n" cx="74.5" cy="74.5" r="15.5" fill="#f1b037"/><circle r="12.5" fill="#000"/>
</g>
<text class="bt" x="1299.7" y="1381.7">At</text><text class="bt" x="1456.1" y="1381.7">Dt</text><text class="bt" x="1299" y="1608.3">AA</text><text class="bt" x="1455.5" y="1608.3">DD</text><text class="bt" x="1376" y="1668">1</text>
</g>
</svg>
